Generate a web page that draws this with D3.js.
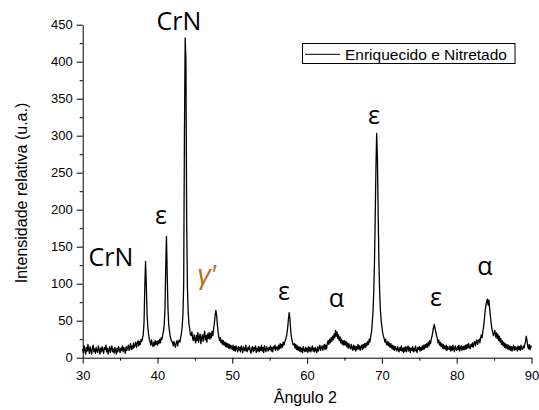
<!DOCTYPE html>
<html>
<head>
<meta charset="utf-8">
<script src="https://cdn.jsdelivr.net/npm/d3@7"></script>
<style>
body { margin: 0; background: #fff; }
text { font-family: "Liberation Sans", Arial, sans-serif; fill: #000; }
.peak { font-family: "Open Sans", sans-serif; font-size: 25px; }
</style>
</head>
<body>
<svg id="chart" width="539" height="410"></svg>
<script>
// diffractogram sampled every 0.1 deg from 30 to 90
var angleStart = 30, angleStep = 0.1;
var intensity = [
  12, 7, 16, 10, 5, 14, 9, 18, 11, 6,        // 30
  15, 10, 5, 13, 17, 8, 12, 6, 14, 9,        // 31
  7, 16, 11, 5, 13, 8, 15, 10, 6, 14,        // 32
  11, 17, 8, 13, 5, 10, 15, 7, 12, 16,       // 33
  8, 12, 6, 14, 10, 5, 13, 8, 15, 11,        // 34
  7, 13, 10, 16, 8, 14, 11, 6, 15, 10,       // 35
  13, 17, 10, 15, 19, 11, 16, 12, 20, 14,    // 36
  17, 21, 14, 19, 23, 16, 22, 18, 25, 22,    // 37
  26, 32, 48, 95, 130, 100, 60, 42, 32, 25,  // 38
  22, 17, 24, 18, 15, 21, 16, 23, 18, 22,    // 39
  17, 23, 19, 25, 20, 27, 25, 31, 36, 45,    // 40
  66, 122, 164, 112, 66, 45, 36, 29, 25, 22, // 41
  21, 16, 22, 17, 14, 20, 23, 16, 21, 24,    // 42
  21, 27, 33, 42, 58, 98, 300, 432, 402, 185,// 43
  95, 62, 46, 39, 31, 30, 35, 26, 23, 31,    // 44
  25, 20, 30, 23, 34, 21, 28, 32, 19, 27,    // 45
  31, 22, 29, 36, 24, 30, 21, 32, 26, 34,    // 46
  25, 33, 27, 36, 30, 39, 46, 57, 64, 58,    // 47
  45, 35, 28, 23, 27, 20, 24, 18, 23, 17,    // 48
  21, 15, 20, 14, 19, 13, 18, 12, 17, 14,    // 49
  11, 17, 10, 15, 9, 16, 12, 8, 15, 10,      // 50
  14, 8, 16, 11, 7, 15, 12, 9, 17, 10,       // 51
  8, 14, 11, 16, 9, 6, 13, 15, 8, 14,        // 52
  10, 16, 7, 13, 9, 15, 8, 14, 10, 17,       // 53
  9, 14, 7, 16, 11, 8, 15, 12, 9, 14,        // 54
  11, 16, 9, 14, 8, 15, 12, 17, 10, 14,      // 55
  15, 10, 17, 12, 19, 13, 18, 14, 21, 17,    // 56
  21, 24, 27, 32, 40, 52, 61, 54, 38, 28,    // 57
  23, 18, 17, 19, 13, 18, 11, 16, 10, 15,    // 58
  9, 14, 8, 13, 7, 15, 10, 8, 14, 9,         // 59
  13, 7, 15, 9, 14, 8, 12, 16, 9, 13,        // 60
  8, 14, 10, 7, 15, 9, 13, 17, 10, 14,       // 61
  16, 10, 15, 18, 11, 17, 12, 19, 23, 18,    // 62
  25, 20, 27, 22, 29, 24, 32, 27, 37, 29,    // 63
  35, 26, 31, 23, 28, 20, 25, 18, 23, 17,    // 64
  23, 17, 22, 15, 20, 13, 19, 14, 12, 18,    // 65
  13, 10, 17, 11, 16, 9, 15, 11, 18, 12,     // 66
  16, 10, 15, 17, 11, 18, 13, 19, 14, 20,    // 67
  16, 22, 18, 25, 21, 29, 34, 45, 60, 85,    // 68
  125, 185, 255, 303, 270, 195, 130, 88, 64, 50, // 69
  42, 34, 29, 26, 21, 25, 19, 17, 22, 16,    // 70
  20, 14, 19, 13, 17, 11, 16, 10, 15, 12,    // 71
  9, 15, 11, 8, 14, 10, 16, 9, 13, 7,        // 72
  14, 9, 15, 8, 13, 16, 9, 14, 7, 13,        // 73
  10, 15, 8, 13, 9, 16, 10, 7, 14, 11,       // 74
  15, 9, 14, 10, 16, 11, 17, 12, 18, 14,     // 75
  19, 14, 21, 16, 23, 19, 25, 29, 35, 41,    // 76
  45, 40, 35, 30, 26, 20, 24, 17, 21, 15,    // 77
  19, 13, 18, 12, 16, 11, 17, 10, 15, 12,    // 78
  11, 16, 9, 15, 10, 17, 11, 8, 16, 12,      // 79
  10, 15, 11, 17, 9, 14, 16, 10, 15, 11,     // 80
  16, 11, 17, 12, 18, 13, 19, 14, 12, 18,    // 81
  15, 20, 14, 19, 22, 16, 21, 24, 18, 23,    // 82
  25, 20, 27, 31, 27, 36, 42, 52, 63, 71,    // 83
  76, 79, 71, 78, 67, 57, 47, 39, 35, 30,    // 84
  33, 37, 28, 34, 26, 32, 23, 29, 21, 26,    // 85
  18, 23, 16, 21, 14, 19, 13, 18, 12, 17,    // 86
  11, 16, 10, 15, 9, 14, 17, 10, 15, 11,     // 87
  14, 9, 16, 11, 15, 10, 17, 12, 11, 16,     // 88
  13, 18, 22, 29, 23, 15, 12, 18, 11, 16,    // 89
  14                                         // 90
];

var xTicks = [30, 40, 50, 60, 70, 80, 90];
var xMinor = [35, 45, 55, 65, 75, 85];
var yTicks = [0, 50, 100, 150, 200, 250, 300, 350, 400, 450];
var yMinor = [25, 75, 125, 175, 225, 275, 325, 375, 425];

// phase labels: text, angle, intensity (baseline)
var phaseText = ["CrN", "CrN", "ε", "ε", "α", "ε", "ε", "α"];
var phaseAngle = [42.87, 33.78, 40.47, 56.91, 63.93, 68.94, 77.23, 83.78];
var phaseLevel = [442.8, 124.3, 180.7, 78, 68, 315.8, 69.9, 111.8];

var seriesName = "Enriquecido e Nitretado";

var svg = d3.select("#chart");

var x = d3.scaleLinear().domain([30, 90]).range([82.7, 531.5]);
var y = d3.scaleLinear().domain([0, 450]).range([357.7, 24.7]);

// minor ticks first, then the major axes on top
svg.append("g")
    .attr("transform", "translate(0,357.7)")
    .call(d3.axisBottom(x).tickValues(xMinor).tickSize(3).tickSizeOuter(0).tickFormat(""))
    .call(g => g.select(".domain").remove());
svg.append("g")
    .attr("transform", "translate(82.7,0)")
    .call(d3.axisLeft(y).tickValues(yMinor).tickSize(3).tickSizeOuter(0).tickFormat(""))
    .call(g => g.select(".domain").remove());

var xAxis = svg.append("g")
    .attr("transform", "translate(0,357.7)")
    .call(d3.axisBottom(x).tickValues(xTicks).tickSize(6).tickSizeOuter(0).tickPadding(7));
var yAxis = svg.append("g")
    .attr("transform", "translate(82.7,0)")
    .call(d3.axisLeft(y).tickValues(yTicks).tickSize(6).tickSizeOuter(0).tickPadding(4));

svg.selectAll(".tick text").attr("font-size", 13).attr("font-family", '"Liberation Sans", Arial, sans-serif');
svg.selectAll(".domain, .tick line").attr("stroke", "#000").attr("stroke-width", 1);

// pattern
var line = d3.line()
    .x((d, i) => x(angleStart + i * angleStep))
    .y(d => y(d));

svg.append("path")
    .datum(intensity)
    .attr("fill", "none")
    .attr("stroke", "#000")
    .attr("stroke-width", 1.3)
    .attr("stroke-linejoin", "round")
    .attr("d", line);

// axis titles
svg.append("text")
    .attr("x", 305.3)
    .attr("y", 403)
    .attr("text-anchor", "middle")
    .attr("font-size", 16)
    .text("Ângulo 2");

svg.append("text")
    .attr("transform", "translate(27,193) rotate(-90)")
    .attr("text-anchor", "middle")
    .attr("font-size", 16)
    .text("Intensidade relativa (u.a.)");

// phase labels
svg.append("g").selectAll("text")
    .data(phaseText)
    .enter()
    .append("text")
    .attr("class", "peak")
    .attr("x", (d, i) => x(phaseAngle[i]))
    .attr("y", (d, i) => y(phaseLevel[i]))
    .attr("text-anchor", "middle")
    .text(d => d);

svg.append("text")
    .attr("x", x(45.3))
    .attr("y", y(99))
    .attr("font-family", '"DejaVu Serif", "Liberation Serif", serif')
    .attr("font-style", "italic")
    .attr("font-size", 27)
    .style("fill", "#b8711a")
    .text("γ′");

// legend
var legend = svg.append("g");
legend.append("rect")
    .attr("x", 302.5).attr("y", 43.5)
    .attr("width", 212.5).attr("height", 20)
    .attr("fill", "#fff")
    .attr("stroke", "#000");
legend.append("line")
    .attr("x1", 305).attr("x2", 340)
    .attr("y1", 54.3).attr("y2", 54.3)
    .attr("stroke", "#000");
legend.append("text")
    .attr("x", 345).attr("y", 59.5)
    .attr("font-size", 15.5)
    .text(seriesName);
</script>
</body>
</html>
